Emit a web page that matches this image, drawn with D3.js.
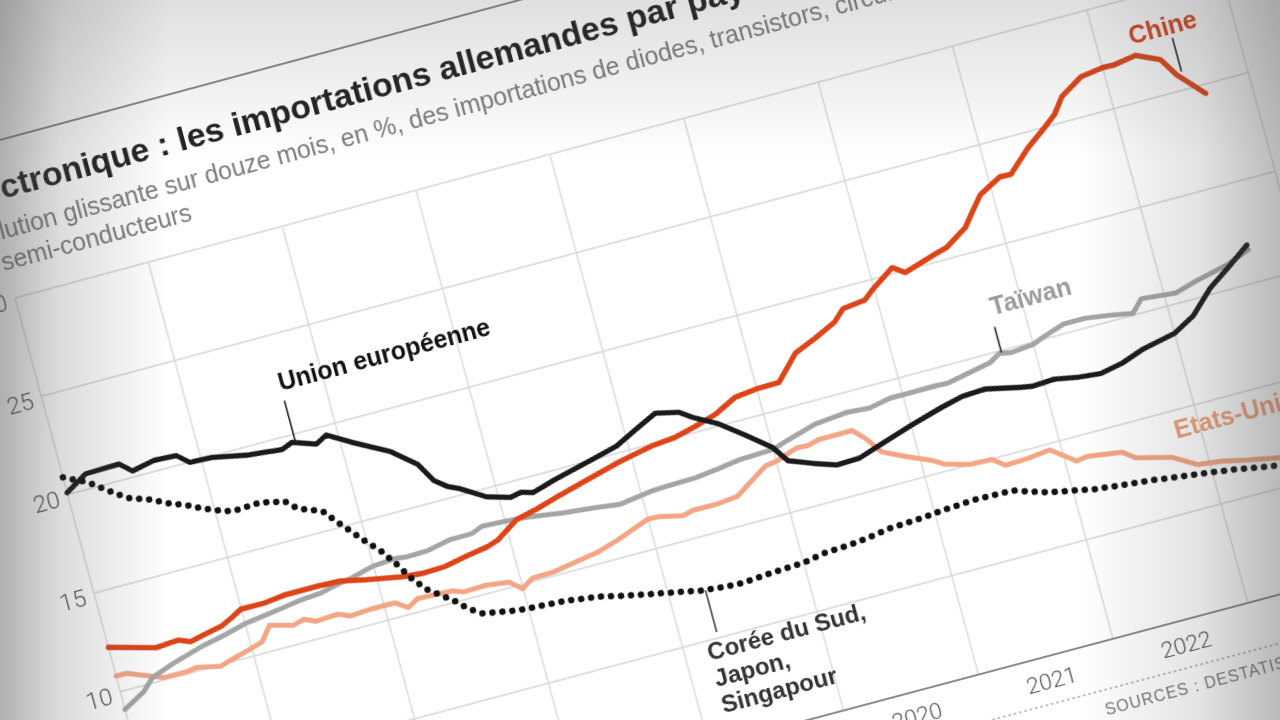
<!DOCTYPE html>
<html><head><meta charset="utf-8">
<script src="https://cdn.jsdelivr.net/npm/d3@7"></script>
<style>
html,body{margin:0;padding:0;width:1280px;height:720px;overflow:hidden;background:#fff;}
#stage{position:absolute;left:0;top:0;width:1280px;height:720px;overflow:hidden;background:#fff;}
#flat{position:absolute;left:0;top:0;transform-origin:0 0;filter:blur(0.4px);}
#shade{position:absolute;left:0;top:0;width:1280px;height:720px;pointer-events:none;
background:
 linear-gradient(to right, rgba(80,80,80,0.45) 0px, rgba(80,80,80,0.2) 60px, rgba(80,80,80,0) 170px),
 linear-gradient(to left, rgba(80,80,80,0.4) 0px, rgba(80,80,80,0.16) 80px, rgba(80,80,80,0) 200px),
 linear-gradient(to bottom, rgba(80,80,80,0.18) 0px, rgba(80,80,80,0) 160px);}
</style></head><body>
<div id="stage"><div id="flat"></div><div id="shade"></div></div>
<script>
// ---------- DATA (months counted from January 2015) ----------
const chinaMonth = [0,4,6,7,8,10,11,12,14,16,19,21,23,26,28,30,32,34,35,37,39,41,44,47,50,52,54,56,58,60,62,64,66,68,69,71,72,74,75,78,79,81,82,83,85,86,88,90,91,92,94,96,97,99,101,102,104];
const chinaValue = [12.25,11.63,11.71,11.48,11.6,11.83,12.09,12.39,12.37,12.5,12.5,12.45,12.2,11.89,11.78,11.82,12.04,12.22,12.4,13.13,13.39,13.71,14.15,14.58,14.91,15.01,15.28,15.6,16.15,16.28,16.3,17.47,17.93,18.45,18.98,19.11,19.55,20.3,19.9,20.41,20.56,21.26,21.95,22.63,23.22,23.2,24.23,25.05,25.49,26.24,26.92,27.08,27.06,27.24,26.72,25.81,24.56];

const ueMonth = [0,2,5,6,8,10,11,13,16,19,20,22,23,25,28,30,31,32,33,35,37,38,39,41,45,47,49,51,53,54,56,58,60,61,63,65,67,69,72,75,77,79,82,83,85,87,89,91,93,96,98,100,102,104];
const ueValue = [20.1,20.76,20.8,20.3,20.53,20.47,19.98,19.93,19.59,19.42,19.63,19.24,19.55,18.88,17.95,17.0,16.03,15.57,15.31,14.6,14.26,14.37,14.2,14.52,15.06,15.34,15.89,16.41,16.15,15.75,15.12,14.24,13.31,12.49,12.05,11.67,11.71,12.07,12.6,13.07,13.33,13.39,13.02,12.92,12.98,12.77,12.66,12.88,13.27,13.63,14.23,15.31,16.07,16.88];

const taiwanMonth = [0,2,3,5,8,10,12,15,17,19,20,22,24,26,27,29,31,33,34,36,38,41,44,46,49,50,53,55,57,60,61,64,67,69,71,72,75,76,78,80,81,82,84,85,87,89,91,93,94,97,99,102,104];
const taiwanValue = [9.1,9.7,10.25,10.66,11.13,11.36,11.64,11.87,12.05,12.13,12.26,12.47,12.75,12.83,12.76,12.8,13.03,13.04,13.26,13.2,13.11,12.87,12.7,12.55,12.78,12.81,12.86,12.99,13.15,13.21,13.39,13.87,14.03,13.95,14.17,14.16,14.17,14.13,14.35,14.57,14.89,14.78,14.88,15.1,15.47,15.46,15.3,15.09,15.68,15.51,15.83,16.21,16.65];

const usMonth = [0,1,3,4,6,7,9,10,12,13,14,16,17,18,20,21,23,25,26,27,30,31,33,35,36,37,39,41,43,45,46,48,49,51,52,54,56,58,59,60,62,63,64,66,67,68,69,71,73,74,76,78,79,81,83,85,86,89,90,93,95,97,99,102,104];
const usValue = [10.8,10.78,10.33,10.12,10.1,10.18,9.93,10.1,10.4,10.56,11.26,10.95,11.11,10.86,10.92,10.67,10.75,10.74,10.34,10.65,10.58,10.38,10.42,10.27,9.78,10.16,10.2,10.38,10.56,10.89,11.1,11.5,11.47,11.22,11.35,11.33,11.45,12.17,12.52,12.61,12.99,12.95,13.1,13.1,13.11,12.53,11.71,11.17,10.69,10.34,10.03,9.97,9.53,9.57,9.7,8.84,8.92,8.68,8.24,7.81,7.14,7.01,6.76,6.43,6.3];

const asiaMonth = [0,2,4,5,7,8,10,11,13,14,16,17,18,19,21,22,23,24,25,26,27,28,30,31,32,34,35,37,39,40,42,44,46,49,51,54,57,60,62,65,68,71,73,76,79,82,86,91,94,98,102,104];
const asiaValue = [20.88,20.33,19.47,19.08,18.69,18.38,17.93,17.63,17.2,17.12,17.2,17.04,16.96,16.42,15.98,15.28,14.61,13.96,13.37,12.54,11.63,10.95,10.08,9.53,9.14,8.94,8.83,8.75,8.69,8.62,8.47,8.22,7.98,7.66,7.43,7.28,7.39,7.48,7.67,7.77,8.01,8.1,8.21,8.3,8.25,7.71,7.27,6.97,6.75,6.45,6.05,5.95];

const yTicks = [0,5,10,15,20,25,30];
const yearTicks = [2015,2016,2017,2018,2019,2020,2021,2022,2023,2024];
const yearLabels = ["2015","2016","2017","2018","2019","2020","2021","2022","2023"];

const titleText = "Électronique : les importations allemandes par pays d’origine";
const subtitleLines = ["Évolution glissante sur douze mois, en %, des importations de diodes, transistors, circuits intégrés et autres dispositifs", "semi-conducteurs"];
const sourceText = "SOURCES : DESTATIS, UN COMTRADE";

// ---------- FLAT CHART ----------
const W = 1600, H = 1150;
const x = d3.scaleTime().domain([new Date(2015,0,1), new Date(2024,0,1)]).range([100, 1351]);
const y = d3.scaleLinear().domain([0,30]).range([912, 300]);
const m2d = m => new Date(2015, 0, 1 + m * 30.4375);

const svg = d3.select("#flat").append("svg").attr("width", W).attr("height", H)
  .style("overflow","visible");

const FONT = "'Liberation Sans', Arial, sans-serif";
const g = svg.append("g");

// header
g.append("line").attr("x1", -200).attr("x2", 1500).attr("y1", y(37.7)).attr("y2", y(37.7))
  .attr("stroke", "#8a8a8a").attr("stroke-width", 2);
g.append("text").attr("x", 63).attr("y", 201).text(titleText)
  .attr("font-family", FONT).attr("font-weight", 700).attr("font-size", 34).attr("fill", "#222");
const subX = [59, 96];
subtitleLines.forEach((s,i) => {
  g.append("text").attr("x", subX[i]).attr("y", 240 + i*31).text(s)
   .attr("font-family", FONT).attr("font-size", 25).attr("fill", "#7d7d7d");
});

// grid
const grid = g.append("g");
grid.selectAll(".hg").data(yTicks.filter(v => v > 0)).join("line")
  .attr("x1", x.range()[0]).attr("x2", x.range()[1])
  .attr("y1", d => y(d)).attr("y2", d => y(d))
  .attr("stroke", "#d6d6d6").attr("stroke-width", 1.3);
grid.selectAll(".vg").data(yearTicks).join("line")
  .attr("x1", d => x(new Date(d,0,1))).attr("x2", d => x(new Date(d,0,1)))
  .attr("y1", y(30)).attr("y2", y(0))
  .attr("stroke", "#d6d6d6").attr("stroke-width", 1.3);
g.append("line").attr("x1", x.range()[0]).attr("x2", x.range()[1])
  .attr("y1", y(0)).attr("y2", y(0)).attr("stroke", "#8c8c8c").attr("stroke-width", 2.2);

// y tick labels
g.selectAll(".yl").data(yTicks).join("text")
  .attr("x", x.range()[0] - 9).attr("y", d => y(d)).attr("dy", "0.4em")
  .attr("text-anchor", "end").text(d => d)
  .attr("font-family", "Roboto, sans-serif").attr("font-weight", 300).attr("font-size", 24).attr("fill", "#555");

// year labels
g.selectAll(".xl").data(yearLabels).join("text")
  .attr("x", d => x(new Date(+d, 6, 1))).attr("y", y(0) + 24).attr("dy", "0.36em")
  .attr("text-anchor", "middle").text(d => d)
  .attr("font-family", "Roboto, sans-serif").attr("font-weight", 300).attr("font-size", 23).attr("fill", "#555");

// footer
g.append("line").attr("x1", x.range()[0]).attr("x2", x.range()[1]+100)
  .attr("y1", y(0) + 47).attr("y2", y(0) + 47)
  .attr("stroke", "#a5a5a5").attr("stroke-width", 1.5).attr("stroke-dasharray", "2.5 3");
g.append("text").attr("x", x(new Date(2022,0,1)) - 26).attr("y", y(0) + 72).text(sourceText)
  .attr("font-family", FONT).attr("font-size", 16).attr("letter-spacing", 1).attr("fill", "#777");

// lines
const line = d3.line().x(d => x(m2d(d.m))).y(d => y(d.v));
const zip = (ms, vs) => ms.map((m,i) => ({m, v: vs[i]}));
const series = [
  {name:"us", data: zip(usMonth, usValue), color:"#f3a584", w:5},
  {name:"tw", data: zip(taiwanMonth, taiwanValue), color:"#a5a5a5", w:5},
  {name:"cn", data: zip(chinaMonth, chinaValue), color:"#dd4519", w:5.4},
  {name:"ue", data: zip(ueMonth, ueValue), color:"#1a1a1a", w:5.2},
];
series.forEach(s => {
  g.append("path").datum(s.data).attr("d", line).attr("fill","none")
   .attr("stroke", s.color).attr("stroke-width", s.w)
   .attr("stroke-linejoin","round").attr("stroke-linecap","round");
});
g.append("path").datum(zip(asiaMonth, asiaValue)).attr("d", line).attr("fill","none")
  .attr("stroke", "#111").attr("stroke-width", 6.5).attr("stroke-linecap","round")
  .attr("stroke-dasharray", "0 10");

// annotations
function leader(m, v0, v1, color) {
  g.append("line").attr("x1", x(m2d(m))).attr("x2", x(m2d(m)))
   .attr("y1", y(v0)).attr("y2", y(v1)).attr("stroke", color || "#222").attr("stroke-width", 1.6);
}
function label(m, v, txt, color, size) {
  return g.append("text").attr("x", x(m2d(m))).attr("y", y(v)).text(txt)
   .attr("font-family", FONT).attr("font-weight", 700).attr("font-size", size || 25).attr("fill", color);
}
leader(20.3, 19.7, 21.7);
label(20.2, 22.2, "Union européenne", "#111");
leader(102.5, 25.9, 27.6);
label(98.9, 27.8, "Chine", "#d8441c");
leader(81.2, 14.9, 16.2);
label(81.3, 16.75, "Taïwan", "#9c9c9c");
leader(103.5, 6.4, 8.5);
label(93.8, 8.65, "Etats-Unis", "#f0a07c");
leader(51.2, 7.4, 5.3, "#444");
["Corée du Sud,", "Japon,", "Singapour"].forEach((t,i) => {
  label(50.0, 4.0 - i*1.32, t, "#333", 24);
});

// ---------- PERSPECTIVE (homography from flat plot corners to photo) ----------
function homography(src, dst) {
  const A = [], b = [];
  for (let i = 0; i < 4; i++) {
    const [sx, sy] = src[i], [X, Y] = dst[i];
    A.push([sx, sy, 1, 0, 0, 0, -X*sx, -X*sy]); b.push(X);
    A.push([0, 0, 0, sx, sy, 1, -Y*sx, -Y*sy]); b.push(Y);
  }
  const n = 8;
  for (let c = 0; c < n; c++) {
    let p = c;
    for (let r = c+1; r < n; r++) if (Math.abs(A[r][c]) > Math.abs(A[p][c])) p = r;
    [A[c], A[p]] = [A[p], A[c]]; [b[c], b[p]] = [b[p], b[c]];
    for (let r = 0; r < n; r++) {
      if (r === c) continue;
      const f = A[r][c] / A[c][c];
      for (let k = c; k < n; k++) A[r][k] -= f * A[c][k];
      b[r] -= f * b[c];
    }
  }
  return b.map((v,i) => v / A[i][i]);
}
const xa = x(new Date(2015,0,1)), xb = x(new Date(2023,0,1));
const src = [[xa, y(30)], [xa, y(0)], [xb, y(0)], [xb, y(30)]];
const dst = [[15, 298], [173, 889], [1248, 603], [1087, 10]];
const h = homography(src, dst);
const m3 = [h[0], h[3], 0, h[6], h[1], h[4], 0, h[7], 0, 0, 1, 0, h[2], h[5], 0, 1];
d3.select("#flat").style("transform", `matrix3d(${m3.join(",")})`);
</script>
</body></html>
